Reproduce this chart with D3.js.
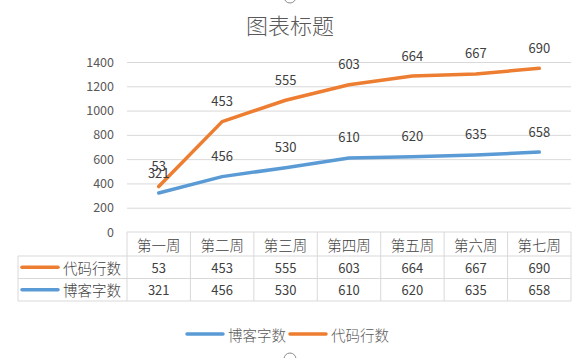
<!DOCTYPE html>
<html>
<head>
<meta charset="utf-8">
<script src="https://cdn.jsdelivr.net/npm/d3@7"></script>
<style>
  body { margin: 0; background: #fff; }
  svg { display: block; font-family: "Noto Sans CJK SC", "Noto Sans", sans-serif; }
</style>
</head>
<body>
<svg id="chart" width="581" height="358"></svg>
<script>
// chart data
const weeks = ["第一周", "第二周", "第三周", "第四周", "第五周", "第六周", "第七周"];
const seriesNames = ["代码行数", "博客字数"];
const codeLines = [53, 453, 555, 603, 664, 667, 690];
const blogWords = [321, 456, 530, 610, 620, 635, 658];
const yTicks = [0, 200, 400, 600, 800, 1000, 1200, 1400];
const title = "图表标题";

const colors = { "代码行数": "#ED7D31", "博客字数": "#5B9BD5" };

const svg = d3.select("#chart");
const plotL = 127, plotR = 571, plotT = 62, plotB = 232;

// x and y
const x = d3.scaleBand().domain(weeks).range([plotL, plotR]);
const y = d3.scaleLinear().domain([0, 1400]).range([plotB, plotT]);

// stacked: blog first, code on top
const blogPts = weeks.map((w, i) => ({ w, raw: blogWords[i], v: blogWords[i] }));
const codePts = weeks.map((w, i) => ({ w, raw: codeLines[i], v: blogWords[i] + codeLines[i] }));

// title
svg.append("text")
  .attr("x", 290).attr("y", 24)
  .attr("text-anchor", "middle").attr("dominant-baseline", "central")
  .attr("font-size", 22).attr("font-weight", 300).attr("fill", "#595959")
  .text(title);

// grid lines
const grid = svg.append("g").attr("transform", `translate(${plotL},0)`)
  .call(d3.axisRight(y).tickValues(yTicks.filter(t => t > 0)).tickSize(plotR - plotL).tickFormat(""));
grid.select(".domain").remove();
grid.selectAll("line").attr("stroke", "#d9d9d9");

// y axis labels
const yAxis = svg.append("g").attr("transform", `translate(114,0)`)
  .call(d3.axisLeft(y).tickValues(yTicks).tickSize(0).tickPadding(0).tickFormat(d3.format("d")));
yAxis.select(".domain").remove();
yAxis.selectAll("text")
  .attr("font-size", 12.5).attr("fill", "#595959")
  .attr("font-family", "\"Noto Sans CJK SC\", sans-serif");

// lines
const line = d3.line().x(d => x(d.w) + x.bandwidth() / 2).y(d => y(d.v));
[[blogPts, "博客字数"], [codePts, "代码行数"]].forEach(([pts, name]) => {
  svg.append("path").datum(pts)
    .attr("d", line)
    .attr("fill", "none")
    .attr("stroke", colors[name])
    .attr("stroke-width", 3.5)
    .attr("stroke-linecap", "round")
    .attr("stroke-linejoin", "round");
});

// data labels
[blogPts, codePts].forEach(pts => {
  svg.append("g").selectAll("text").data(pts).join("text")
    .attr("x", d => x(d.w) + x.bandwidth() / 2)
    .attr("y", d => y(d.v) - 21)
    .attr("text-anchor", "middle").attr("dominant-baseline", "central")
    .attr("font-size", 13).attr("fill", "#404040")
    .text(d => d.raw);
});

// data table
const rowY = [232, 256, 278.5, 301];
const tableLeft = 18;
const tbl = svg.append("g").attr("stroke", "#d9d9d9").attr("stroke-width", 1);
// horizontal lines
tbl.append("line").attr("x1", plotL).attr("x2", plotR).attr("y1", rowY[0]).attr("y2", rowY[0]);
rowY.slice(1).forEach(ry => {
  tbl.append("line").attr("x1", tableLeft).attr("x2", plotR).attr("y1", ry).attr("y2", ry);
});
// vertical lines
weeks.forEach(w => {
  tbl.append("line").attr("x1", x(w)).attr("x2", x(w)).attr("y1", rowY[0]).attr("y2", rowY[3]);
});
tbl.append("line").attr("x1", plotR).attr("x2", plotR).attr("y1", rowY[0]).attr("y2", rowY[3]);
tbl.append("line").attr("x1", tableLeft).attr("x2", tableLeft).attr("y1", rowY[1]).attr("y2", rowY[3]);

// header
svg.append("g").selectAll("text").data(weeks).join("text")
  .attr("x", d => x(d) + x.bandwidth() / 2)
  .attr("y", (rowY[0] + rowY[1]) / 2)
  .attr("text-anchor", "middle").attr("dominant-baseline", "central")
  .attr("font-size", 14.5).attr("font-weight", 300).attr("fill", "#404040")
  .text(d => d);

// rows
const rows = [["代码行数", codeLines], ["博客字数", blogWords]];
rows.forEach(([name, vals], r) => {
  const cy = (rowY[r + 1] + rowY[r + 2]) / 2;
  svg.append("line")
    .attr("x1", 22).attr("x2", 58).attr("y1", cy).attr("y2", cy)
    .attr("stroke", colors[name]).attr("stroke-width", 3.5).attr("stroke-linecap", "round");
  svg.append("text")
    .attr("x", 63).attr("y", cy)
    .attr("dominant-baseline", "central")
    .attr("font-size", 14.5).attr("font-weight", 300).attr("fill", "#404040")
    .text(name);
  svg.append("g").selectAll("text").data(vals).join("text")
    .attr("x", (d, i) => x(weeks[i]) + x.bandwidth() / 2)
    .attr("y", cy)
    .attr("text-anchor", "middle").attr("dominant-baseline", "central")
    .attr("font-size", 13).attr("fill", "#404040")
    .text(d => d);
});

// legend
const legendItems = [["博客字数", 187], ["代码行数", 290]];
legendItems.forEach(([name, lx]) => {
  svg.append("line")
    .attr("x1", lx).attr("x2", lx + 36).attr("y1", 334).attr("y2", 334)
    .attr("stroke", colors[name]).attr("stroke-width", 3.5).attr("stroke-linecap", "round");
  svg.append("text")
    .attr("x", lx + 41).attr("y", 334)
    .attr("dominant-baseline", "central")
    .attr("font-size", 14.5).attr("font-weight", 300).attr("fill", "#595959")
    .text(name);
});

// selection handles
[[290, -3], [290, 359]].forEach(([cx, cy]) => {
  svg.append("circle").attr("cx", cx).attr("cy", cy).attr("r", 6)
    .attr("fill", "#fff").attr("stroke", "#8c8c8c").attr("stroke-width", 1);
});
</script>
</body>
</html>
